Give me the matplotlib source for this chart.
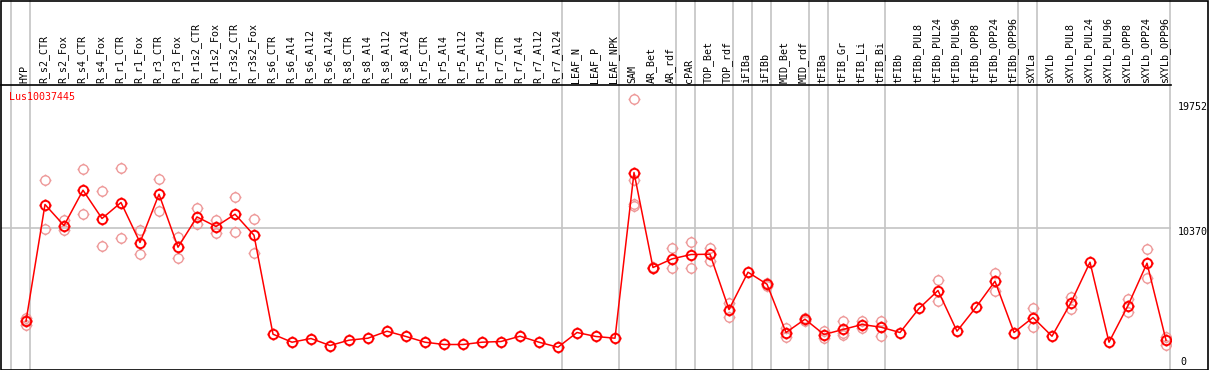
import numpy as np
import matplotlib
matplotlib.use('Agg')
import matplotlib.pyplot as plt
from matplotlib.path import Path
from matplotlib.patches import Rectangle
from matplotlib.transforms import blended_transform_factory

# Sample names along the top
samples = ['HYP', 'R_s2_CTR', 'R_s2_Fox', 'R_s4_CTR', 'R_s4_Fox', 'R_r1_CTR', 'R_r1_Fox',
           'R_r3_CTR', 'R_r3_Fox', 'R_r1s2_CTR', 'R_r1s2_Fox', 'R_r3s2_CTR', 'R_r3s2_Fox',
           'R_s6_CTR', 'R_s6_Al4', 'R_s6_Al12', 'R_s6_Al24', 'R_s8_CTR', 'R_s8_Al4',
           'R_s8_Al12', 'R_s8_Al24', 'R_r5_CTR', 'R_r5_Al4', 'R_r5_Al12', 'R_r5_Al24',
           'R_r7_CTR', 'R_r7_Al4', 'R_r7_Al12', 'R_r7_Al24', 'LEAF_N', 'LEAF_P', 'LEAF_NPK',
           'SAM', 'AR_Bet', 'AR_rdf', 'cPAR', 'TOP_Bet', 'TOP_rdf', 'iFIBa', 'iFIBb',
           'MID_Bet', 'MID_rdf', 'tFIBa', 'tFIB_Gr', 'tFIB_Li', 'tFIB_Bi', 'tFIBb',
           'tFIBb_PUL8', 'tFIBb_PUL24', 'tFIBb_PUL96', 'tFIBb_OPP8', 'tFIBb_OPP24',
           'tFIBb_OPP96', 'sXYLa', 'sXYLb', 'sXYLb_PUL8', 'sXYLb_PUL24', 'sXYLb_PUL96',
           'sXYLb_OPP8', 'sXYLb_OPP24', 'sXYLb_OPP96']

# mean expression per sample
means = [3381, 12150, 10572, 13225, 11098, 12300, 9295, 12924, 8942, 11218, 10497, 11421, 9843,
         2404, 1803, 2081, 1555, 1954, 2104, 2630, 2232, 1803, 1631, 1631, 1803,
         1856, 2254, 1803, 1428, 2532, 2232, 2104,
         14555, 7416, 8063, 8393, 8416, 4260, 7063, 6161,
         2532, 3532, 2382, 2758, 3133, 2930, 2532,
         4336, 5688, 2630, 4433, 6387, 2532, 3659, 2254,
         4786, 7815, 1803, 4561, 7739, 1954]

# individual replicates (only where visible)
reps = [[3629, 3456, 3133], [13976, 10347], [11023, 10219], [14855, 11474], [13150, 9017],
        [14930, 9618], [10219, 8416], [14104, 11699], [9693, 8115], [11872, 10723],
        [10970, 10046], [12751, 10069], [11098, 8543],
        [], [], [], [], [], [], [], [], [], [], [], [], [], [], [], [], [], [], [],
        [20115, 13976, 12225, 12022], [7466, 7366], [8867, 7416], [9370, 7416], [8919, 7942],
        [4786, 3734], [], [6034, 6287],
        [2833, 2157], [3404, 3659], [2652, 2126], [3359, 2352, 2532], [2878, 3388],
        [3381, 2277], [],
        [], [6515, 4862], [], [], [6966, 5688], [], [4336, 2983], [],
        [5185, 4306], [], [], [5034, 4080], [8844, 6665], [2202, 1578]]

# last sample index of each group (separator lines)
group_ends = [-1, 0, 28, 31, 34, 35, 37, 38, 39, 41, 42, 45, 52, 53, 60]

gene = 'Lus10037445'
ymid, ymax = 10370, 19752

W, H = 1209, 370
fig = plt.figure(figsize=(W / 100, H / 100), dpi=100)
# plot area in pixels: x 1..1171, y 85..369
ax = fig.add_axes([1 / W, 1 / H, 1170 / W, 284 / H])

px_per_x = 19.0
x0 = 26.0
units_per_px = ymid / 138.0
zero_y = 366.2
ax.set_xlim((1 - x0) / px_per_x, (1171 - x0) / px_per_x)
ax.set_ylim((zero_y - 369) * units_per_px, (zero_y - 85) * units_per_px)
for s in ['left', 'right', 'bottom']:
    ax.spines[s].set_visible(False)
ax.spines['top'].set_color('black')
ax.spines['top'].set_linewidth(1.2)
ax.set_xticks([])
ax.set_yticks([])

# grey separators, running up through the label area
for g in group_ends:
    ax.axvline(g + 4.5 / px_per_x, ymin=0, ymax=369 / 284, color='#c4c4c4', lw=1.2,
               clip_on=False, zorder=1)
ax.axhline(ymid, color='#c4c4c4', lw=1.2, zorder=1)

# circle with little ticks, like the original marker
circ = Path.unit_circle()
tl = 1.28
ticks = [Path([[0, 1], [0, tl]]), Path([[0, -1], [0, -tl]]),
         Path([[1, 0], [tl, 0]]), Path([[-1, 0], [-tl, 0]])]
mk = Path.make_compound_path(circ, *ticks)

xs = np.arange(len(samples))
rx = [i for i, r in enumerate(reps) for _ in r]
ry = [v for r in reps for v in r]
ax.plot(rx, ry, ls='none', marker=mk, ms=8.6, mfc='none', mec='#ee9a9a', mew=1.0, zorder=2)
ax.plot(xs, means, color='red', lw=1.1, zorder=3)
ax.plot(xs, means, ls='none', marker=mk, ms=8.6, mfc='none', mec='red', mew=1.4, zorder=4)

mono = 'DejaVu Sans Mono'
trans = blended_transform_factory(ax.transData, ax.transAxes)
for i, s in enumerate(samples):
    ax.text(i - 0.08, 1 + 2 / 284, s, rotation=90, ha='center', va='bottom',
            transform=trans, fontfamily=mono, fontsize=7.2, color='black')

ax.text(8 / 1170, 1 - 7 / 284, gene, transform=ax.transAxes, ha='left', va='top',
        fontfamily=mono, fontsize=7.2, color='red')

# value labels at right
fig.text(1178 / W, 1 - 102 / H, str(ymax), ha='left', va='top', fontfamily=mono, fontsize=7.2)
fig.text(1178 / W, 1 - 227 / H, str(ymid), ha='left', va='top', fontfamily=mono, fontsize=7.2)
fig.text(1180 / W, 1 - 357 / H, '0', ha='left', va='top', fontfamily=mono, fontsize=7.2)

# outer frame
fig.patches.append(Rectangle((0.5 / W, 0.5 / H), 1 - 1.5 / W, 1 - 1.5 / H, transform=fig.transFigure,
                             fill=False, ec='black', lw=1.2))

fig.savefig('out.png', dpi=100)
